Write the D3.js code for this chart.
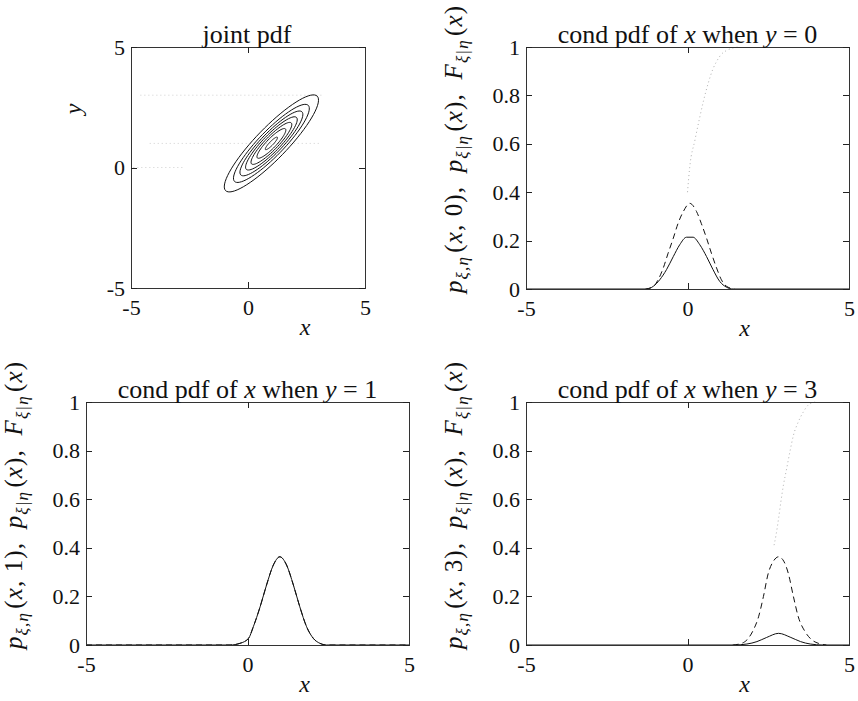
<!DOCTYPE html>
<html><head><meta charset="utf-8">
<script src="https://cdn.jsdelivr.net/npm/d3@7"></script>
<style>
html,body{margin:0;padding:0;background:#fff;}
svg{display:block;}
text{font-family:'Liberation Serif','DejaVu Serif',serif;fill:#111;}
</style></head>
<body>
<svg id="chart" width="858" height="701"></svg>
<script>
// ---------------- data ----------------
const jointTicks = [-5, 0, 5];
const xTicks = [-5, 0, 5];
const probTicks = [0, 0.2, 0.4, 0.6, 0.8, 1];
const probTickLabels = ["0", "0.2", "0.4", "0.6", "0.8", "1"];

// joint pdf: contour ellipses, centre (1,1), major axis along 45 deg
const contourCenter = [1.0, 1.0];
const contourLevels = [0.05, 0.10, 0.15, 0.20, 0.25, 0.30, 0.35];
const contourSemiMajor = [2.77, 2.23, 1.85, 1.52, 1.20, 0.85, 0.36];
const contourSemiMinor = [0.66, 0.53, 0.44, 0.36, 0.28, 0.20, 0.08];
const contourAngleDeg = 45;
// faint slice lines in the joint pdf panel: [y, xStart, xEnd]
const sliceLines = [[3, -4.6, 3.2], [1, -4.2, 3.1], [0, -4.9, -2.8]];

// y = 0 panel
const jointY0 = [[-5,0],[-1.27,0],[-1.06,0.011],[-0.86,0.038],[-0.65,0.08],[-0.44,0.134],[-0.24,0.183],[-0.03,0.214],[0.17,0.214],[0.38,0.183],[0.59,0.134],[0.79,0.08],[1.0,0.031],[1.2,0.008],[1.41,0],[5,0]];
const condY0 = [[-1.3,0],[-1.06,0.01],[-0.91,0.038],[-0.75,0.087],[-0.6,0.148],[-0.44,0.21],[-0.29,0.272],[-0.13,0.32],[0.07,0.354],[0.28,0.32],[0.43,0.27],[0.59,0.21],[0.74,0.148],[0.9,0.087],[1.05,0.038],[1.2,0.012],[1.45,0]];
const cdfY0 = [[0,0.40],[0.07,0.505],[0.23,0.615],[0.38,0.71],[0.5,0.78],[0.64,0.85],[0.79,0.91],[0.9,0.94],[1.05,0.97],[1.2,0.985],[1.41,0.996],[1.6,1.0]];

// y = 1 panel
const jointY1 = [[-5,0],[-0.54,0],[-0.23,0.007],[0.03,0.027],[0.18,0.075],[0.39,0.157],[0.59,0.247],[0.8,0.329],[1.0,0.363],[1.21,0.329],[1.42,0.247],[1.62,0.157],[1.83,0.075],[2.04,0.027],[2.24,0.007],[2.45,0],[5,0]];
const condY1 = jointY1;
const cdfY1 = [];

// y = 3 panel
const jointY3 = [[-5,0],[1.42,0],[1.84,0.004],[2.15,0.014],[2.45,0.031],[2.82,0.048],[3.2,0.031],[3.5,0.014],[3.8,0.004],[4.2,0],[5,0]];
const condY3 = [[1.4,0],[1.68,0.007],[1.84,0.021],[2.04,0.062],[2.2,0.116],[2.35,0.199],[2.5,0.295],[2.66,0.345],[2.82,0.363],[2.98,0.345],[3.12,0.295],[3.28,0.199],[3.43,0.116],[3.64,0.055],[3.85,0.021],[4.05,0.007],[4.3,0]];
const cdfY3 = [[2.68,0.411],[2.74,0.452],[2.82,0.521],[2.89,0.589],[2.97,0.658],[3.07,0.726],[3.17,0.795],[3.28,0.863],[3.43,0.918],[3.59,0.96],[3.72,0.985],[3.9,0.998],[4.0,1.0]];

// ---------------- drawing ----------------
const svg = d3.select("#chart");
const TICK = 6, FS = 22;

function frameAxes(g, x, y, box, xt, yt, yLabels) {
  const ax = (gen, tx, ty) => g.append("g").attr("transform", `translate(${tx},${ty})`).call(gen)
    .call(s => { s.selectAll("path,line").attr("stroke", "#222").attr("stroke-width", 1).attr("shape-rendering", "crispEdges");
                 s.selectAll("text").style("font-size", FS + "px").attr("fill", "#111"); });
  ax(d3.axisBottom(x).tickValues(xt).tickFormat(d => String(d)).tickSizeInner(-TICK).tickSizeOuter(0).tickPadding(11), 0, box.b);
  ax(d3.axisTop(x).tickValues(xt).tickFormat("").tickSizeInner(-TICK).tickSizeOuter(0), 0, box.t);
  ax(d3.axisLeft(y).tickValues(yt).tickFormat((d, i) => yLabels[i]).tickSizeInner(-TICK).tickSizeOuter(0).tickPadding(6), box.l, 0);
  ax(d3.axisRight(y).tickValues(yt).tickFormat("").tickSizeInner(-TICK).tickSizeOuter(0), box.r, 0);
  g.selectAll(".domain").attr("stroke", "#333");
}

function xLabel(g, box) {
  g.append("text").attr("x", (box.l + box.r) / 2 + 57).attr("y", box.b + 47)
    .attr("text-anchor", "middle").style("font-size", "24px").style("font-style", "italic").text("x");
}

// Panel 1: joint pdf
(function () {
  const box = { l: 131, r: 365, t: 47, b: 288 };
  const g = svg.append("g");
  const x = d3.scaleLinear().domain([-5, 5]).range([box.l, box.r]);
  const y = d3.scaleLinear().domain([-5, 5]).range([box.b, box.t]);
  g.selectAll(".slice").data(sliceLines).join("line")
    .attr("x1", d => x(d[1])).attr("x2", d => x(d[2])).attr("y1", d => y(d[0])).attr("y2", d => y(d[0]))
    .attr("stroke", "#cfcfcf").attr("stroke-width", 1).attr("stroke-dasharray", "1,3");
  const th = contourAngleDeg * Math.PI / 180;
  const ellipse = i => d3.range(0, 73).map(k => {
    const t = k / 72 * 2 * Math.PI, a = contourSemiMajor[i], b = contourSemiMinor[i];
    return [contourCenter[0] + a * Math.cos(t) * Math.cos(th) - b * Math.sin(t) * Math.sin(th),
            contourCenter[1] + a * Math.cos(t) * Math.sin(th) + b * Math.sin(t) * Math.cos(th)];
  });
  const line = d3.line().x(d => x(d[0])).y(d => y(d[1])).curve(d3.curveLinearClosed);
  g.selectAll(".contour").data(contourLevels).join("path")
    .attr("d", (d, i) => line(ellipse(i)))
    .attr("fill", "none").attr("stroke", "#111").attr("stroke-width", 1);
  frameAxes(g, x, y, box, jointTicks, jointTicks, jointTicks.map(String));
  g.append("text").attr("x", (box.l + box.r) / 2 - 1).attr("y", box.t - 4).attr("text-anchor", "middle")
    .style("font-size", "26px").text("joint pdf");
  xLabel(g, box);
  g.append("text").attr("transform", `translate(${box.l - 50},${box.t + 62}) rotate(-90)`)
    .attr("text-anchor", "middle").style("font-size", "24px").style("font-style", "italic").text("y");
})();

function probPanel(box, yval, joint, cond, cdf) {
  const g = svg.append("g");
  const x = d3.scaleLinear().domain([-5, 5]).range([box.l, box.r]);
  const y = d3.scaleLinear().domain([0, 1]).range([box.b, box.t]);
  const line = d3.line().x(d => x(d[0])).y(d => y(d[1])).curve(d3.curveMonotoneX);
  if (cdf.length) g.append("path").attr("d", line(cdf)).attr("fill", "none")
    .attr("stroke", "#b0b0b0").attr("stroke-width", 1).attr("stroke-dasharray", "1,3");
  g.append("path").attr("d", line(cond)).attr("fill", "none")
    .attr("stroke", "#111").attr("stroke-width", 1).attr("stroke-dasharray", "6,4");
  g.append("path").attr("d", line(joint)).attr("fill", "none")
    .attr("stroke", "#111").attr("stroke-width", 1);
  frameAxes(g, x, y, box, xTicks, probTicks, probTickLabels);
  const t = g.append("text").attr("x", (box.l + box.r) / 2).attr("y", box.t - 4).attr("text-anchor", "middle")
    .style("font-size", "26px");
  t.append("tspan").text("cond pdf of ");
  t.append("tspan").style("font-style", "italic").text("x");
  t.append("tspan").text(" when ");
  t.append("tspan").style("font-style", "italic").text("y");
  t.append("tspan").text(" = " + yval);
  xLabel(g, box);
  const yl = g.append("text").attr("transform", `translate(${box.l - 64},${box.b + 4}) rotate(-90)`)
    .attr("text-anchor", "start").style("font-size", "25px")
    .attr("textLength", 287).attr("lengthAdjust", "spacing");
  const it = s => yl.append("tspan").style("font-style", "italic").text(s);
  const rm = s => yl.append("tspan").text(s);
  const sub = s => { yl.append("tspan").attr("dy", 6).style("font-size", "17px").style("font-style", "italic").text(s);
                     yl.append("tspan").attr("dy", -6).text("\u200A"); };
  it("p"); sub("\u03BE,\u03B7"); rm("("); it("x"); rm(", " + yval + "),\u2002");
  it("p"); sub("\u03BE|\u03B7"); rm("("); it("x"); rm("),\u2002");
  it("F"); sub("\u03BE|\u03B7"); rm("("); it("x"); rm(")");
}

probPanel({ l: 526, r: 849, t: 47, b: 289 }, 0, jointY0, condY0, cdfY0);
probPanel({ l: 86, r: 409, t: 402, b: 645 }, 1, jointY1, condY1, cdfY1);
probPanel({ l: 526, r: 849, t: 402, b: 645 }, 3, jointY3, condY3, cdfY3);
</script>
</body></html>
